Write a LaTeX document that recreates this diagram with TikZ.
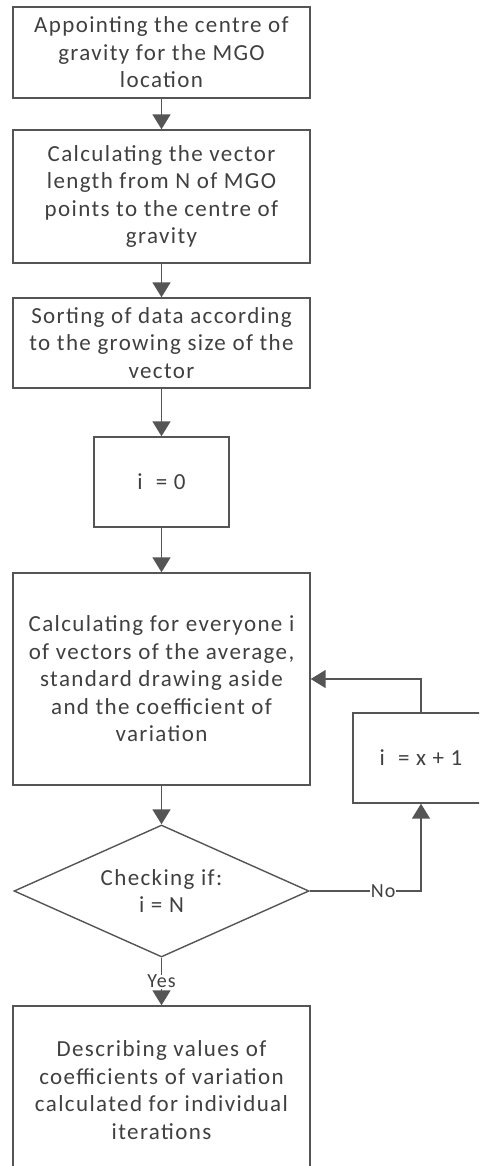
\documentclass[tikz,border=0pt]{standalone}
\usepackage{fontspec}
\setmainfont{Carlito}[LetterSpace=6]
\usetikzlibrary{arrows.meta,shapes.geometric}
\definecolor{linec}{HTML}{555555}
\definecolor{textc}{HTML}{404040}
\begin{document}
\begin{tikzpicture}[x=1pt,y=-1pt,
  box/.style={draw=linec,line width=1.4pt,fill=white,text=textc,align=center,
    font=\fontsize{23}{27.5}\selectfont,inner sep=0pt},
  conn/.style={draw=linec,line width=1.6pt,-{Triangle[length=15pt,width=18pt]}},
  lbl/.style={fill=white,text=textc,font=\fontsize{20}{22}\selectfont,inner sep=0.5pt}]
\useasboundingbox (0,0) rectangle (479,1166);
\clip (0,0) rectangle (479,1166);
\node[box,minimum width=297pt,minimum height=91pt] (b1) at (161.5,52.5)
  {Appointing the centre of\\gravity for the MGO\\location};
\node[box,minimum width=297pt,minimum height=133pt] (b2) at (161.5,196.5)
  {Calculating the vector\\length from N of MGO\\points to the centre of\\gravity};
\node[box,minimum width=297pt,minimum height=90pt] (b3) at (161.5,343)
  {Sorting of data according\\to the growing size of the\\vector};
\node[box,minimum width=135pt,minimum height=90pt] (b4) at (161.5,482)
  {i\ \ = 0};
\node[box,minimum width=297pt,minimum height=212pt] (b5) at (161.5,679)
  {Calculating for everyone i\\of vectors of the average,\\standard drawing aside\\and the coefficient of\\variation};
\node[box,minimum width=136pt,minimum height=90pt] (b6) at (421,758)
  {i\ \ = x + 1};
\node[box,diamond,minimum width=295pt,minimum height=132pt,aspect=2.235] (d) at (161.5,891)
  {Checking if:\\i = N};
\node[box,minimum width=297pt,minimum height=168pt] (b7) at (161.5,1090)
  {Describing values of\\coefficients of variation\\calculated for individual\\iterations};
\draw[conn] (b1) -- (b2);
\draw[conn] (b2) -- (b3);
\draw[conn] (b3) -- (b4);
\draw[conn] (b4) -- (b5);
\draw[conn] (b5) -- (d);
\draw[conn] (d.south) -- node[lbl,pos=0.5]{Yes} (b7.north);
\draw[conn] (d.east) -- node[lbl,pos=0.66]{No} (d.east -| b6.south) -- (b6.south);
\draw[conn] (b6.north) |- (b5.east);
\end{tikzpicture}
\end{document}
